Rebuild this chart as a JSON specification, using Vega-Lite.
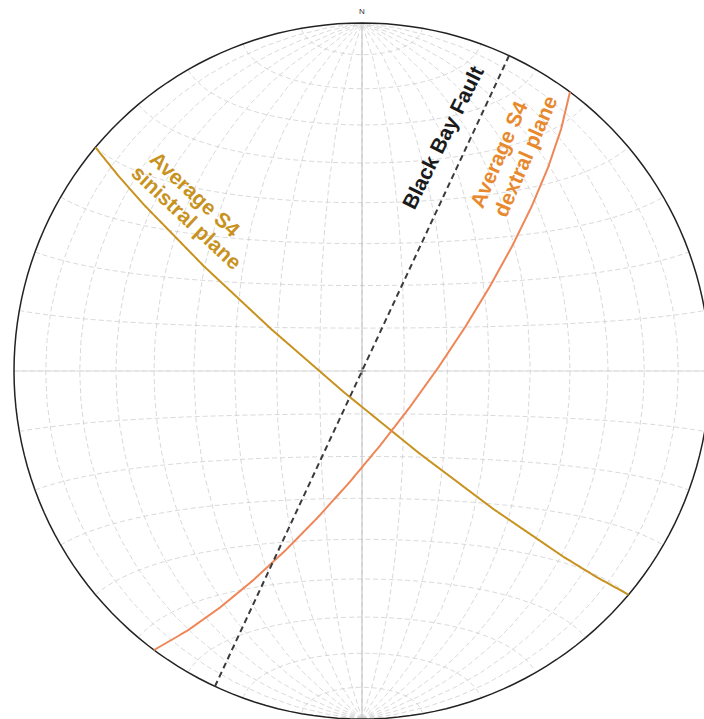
{
  "$schema": "https://vega.github.io/schema/vega-lite/v6.json",
  "width": 704,
  "height": 719,
  "autosize": "none",
  "padding": 0,
  "background": "white",
  "config": {"view": {"stroke": null}},
  "projection": {"type": "azimuthalEqualArea", "rotate": [0, 0, 0], "scale": 246.07, "translate": [362, 371], "clipAngle": 90},
  "layer": [
    {
      "data": {"graticule": {"step": [10, 10], "extent": [[-180, -90], [180, 90]]}},
      "mark": {"type": "geoshape", "filled": false, "stroke": "#c9c9c9", "strokeWidth": 0.7, "strokeDash": [5, 3]}
    },
    {
      "data": {"values": [
        {"axis": "E-W", "type": "Feature", "geometry": {"type": "LineString", "coordinates": [[-90, 0], [0, 0], [90, 0]]}}
      ]},
      "mark": {"type": "geoshape", "filled": false, "stroke": "#dddddd", "strokeWidth": 1}
    },
    {
      "data": {"values": [
        {"axis": "N-S", "type": "Feature", "geometry": {"type": "LineString", "coordinates": [[0, -90], [0, 0], [0, 90]]}}
      ]},
      "mark": {"type": "geoshape", "filled": false, "stroke": "#c4c4c4", "strokeWidth": 1.1}
    },
    {
      "data": {"sphere": true},
      "mark": {"type": "geoshape", "filled": false, "stroke": "#222222", "strokeWidth": 1.5}
    },
    {
      "data": {"values": [
        {"part": "h", "type": "Feature", "geometry": {"type": "LineString", "coordinates": [[-0.9, 0], [0.9, 0]]}},
        {"part": "v", "type": "Feature", "geometry": {"type": "LineString", "coordinates": [[0, -0.9], [0, 0.9]]}}
      ]},
      "mark": {"type": "geoshape", "filled": false, "stroke": "#777777", "strokeWidth": 1}
    },
    {
      "data": {"values": [
        {"plane": "Average S4 sinistral plane", "strike": 310, "dip": 83.5, "type": "Feature", "geometry": {"type": "LineString", "coordinates": [[-90, 40.0], [-4.19, -4.97], [90, -40.0]]}},
        {"plane": "Average S4 dextral plane", "strike": 36.7, "dip": 76, "type": "Feature", "geometry": {"type": "LineString", "coordinates": [[90, 53.3], [11.30, -8.31], [-90, -53.3]]}},
        {"plane": "Black Bay Fault", "strike": 25, "dip": 90, "type": "Feature", "geometry": {"type": "LineString", "coordinates": [[90, 65.0], [0, 0], [-90, -65.0]]}}
      ]},
      "mark": {"type": "geoshape", "filled": false, "strokeWidth": 2},
      "encoding": {
        "stroke": {"field": "plane", "type": "nominal", "legend": null,
          "scale": {"domain": ["Black Bay Fault", "Average S4 dextral plane", "Average S4 sinistral plane"], "range": ["#3a3a3a", "#EE8658", "#C8921E"]}},
        "strokeDash": {"field": "plane", "type": "nominal", "legend": null,
          "scale": {"domain": ["Black Bay Fault", "Average S4 dextral plane", "Average S4 sinistral plane"], "range": [[6, 4], [1, 0], [1, 0]]}}
      }
    },
    {
      "data": {"values": [{"label": "N", "lon": 0, "lat": 90}]},
      "mark": {"type": "text", "font": "Liberation Sans", "fontSize": 8, "fill": "#333333", "dy": -11, "align": "center", "baseline": "middle"},
      "encoding": {
        "longitude": {"field": "lon", "type": "quantitative"},
        "latitude": {"field": "lat", "type": "quantitative"},
        "text": {"field": "label"}
      }
    },
    {
      "data": {"values": [
        {"label": "Average S4", "lon": -49.25, "lat": 38.44},
        {"label": "sinistral plane", "lon": -48.88, "lat": 33.12}
      ]},
      "mark": {"type": "text", "font": "Liberation Sans", "fontSize": 21, "fontWeight": "bold", "fill": "#C8921E", "angle": 43, "align": "center", "baseline": "middle"},
      "encoding": {
        "longitude": {"field": "lon", "type": "quantitative"},
        "latitude": {"field": "lat", "type": "quantitative"},
        "text": {"field": "label"}
      }
    },
    {
      "data": {"values": [{"label": "Black Bay Fault", "lon": 30.15, "lat": 54.98}]},
      "mark": {"type": "text", "font": "Liberation Sans", "fontSize": 21, "fontWeight": "bold", "fill": "#1a1a1a", "angle": -63.5, "align": "center", "baseline": "middle"},
      "encoding": {
        "longitude": {"field": "lon", "type": "quantitative"},
        "latitude": {"field": "lat", "type": "quantitative"},
        "text": {"field": "label"}
      }
    },
    {
      "data": {"values": [
        {"label": "Average S4", "lon": 46.31, "lat": 48.54},
        {"label": "dextral plane", "lon": 54.64, "lat": 46.70}
      ]},
      "mark": {"type": "text", "font": "Liberation Sans", "fontSize": 21, "fontWeight": "bold", "fill": "#E8892E", "angle": -66.5, "align": "center", "baseline": "middle"},
      "encoding": {
        "longitude": {"field": "lon", "type": "quantitative"},
        "latitude": {"field": "lat", "type": "quantitative"},
        "text": {"field": "label"}
      }
    }
  ]
}
